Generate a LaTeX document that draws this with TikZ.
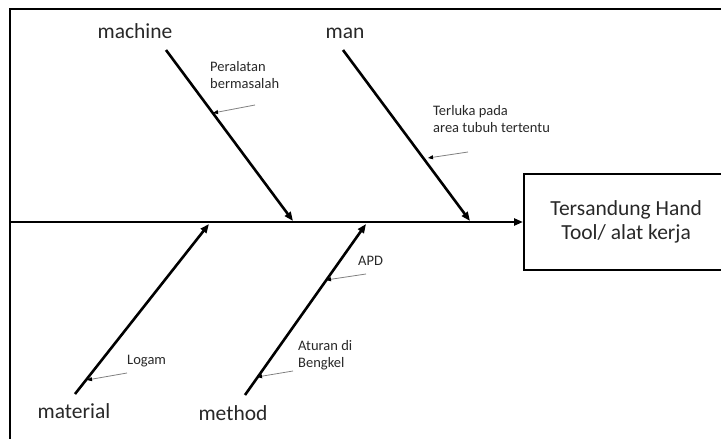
\documentclass[tikz,border=0pt]{standalone}
\usepackage{fontspec}
\setmainfont{Carlito}
\usetikzlibrary{arrows.meta}
\definecolor{txt}{RGB}{40,40,40}
\begin{document}
\begin{tikzpicture}[x=1pt,y=-1pt,
  bone/.style={line width=2.6pt,-{Triangle[length=9pt,width=7pt]}},
  frameline/.style={line width=1.8pt},
  big/.style={font=\fontsize{21.5}{24}\selectfont,inner sep=0pt,text=txt,anchor=base},
  small/.style={font=\fontsize{14.5}{16.5}\selectfont,inner sep=0pt,align=left,anchor=west,text=txt},
  pointer/.style={draw=gray,line width=0.8pt,-{Triangle[length=5pt,width=4pt,fill=black,color=black]}}]
\useasboundingbox (0,0) rectangle (721,439);
\clip (0,0) rectangle (721,439);
% frame
\coordinate (fTR) at (721,9);
\coordinate (fTL) at (10,9);
\coordinate (fBL) at (10,439);
\draw[frameline] (fTR) -- (fTL) -- (fBL);
% effect box
\node[draw,line width=2.4pt,minimum width=204pt,minimum height=96pt,anchor=west,
  font=\fontsize{21.5}{24}\selectfont,align=center,inner sep=0pt,text=txt] (effect) at (523,222)
  {Tersandung Hand\\Tool/ alat kerja};
% spine
\coordinate (spL) at (10,222);
\draw[bone] (spL) -- (effect.west);
% bones
\coordinate (mcS) at (166,50);  \coordinate (mcE) at (293,221);
\coordinate (mnS) at (343,50);  \coordinate (mnE) at (470,221);
\coordinate (mtS) at (75,394);  \coordinate (mtE) at (209,224);
\coordinate (mdS) at (245,395); \coordinate (mdE) at (366,224);
\draw[bone] (mcS) -- (mcE);
\draw[bone] (mnS) -- (mnE);
\draw[bone] (mtS) -- (mtE);
\draw[bone] (mdS) -- (mdE);
% category labels
\node[big] (lmachine) at (135,38) {machine};
\node[big] (lman) at (345,38) {man};
\node[big] (lmaterial) at (74,418) {material};
\node[big] (lmethod) at (233,420) {method};
% causes
\node[small] (cPer) at (210,75) {Peralatan\\bermasalah};
\node[small] (cTer) at (433,119) {Terluka pada\\area tubuh tertentu};
\node[small] (cLog) at (127,361) {Logam};
\node[small] (cAtu) at (298,355) {Aturan di\\Bengkel};
\node[small] (cAPD) at (358,261) {APD};
% pointer ends
\coordinate (pPs) at (255,105); \coordinate (pPe) at (213,113);
\coordinate (pTs) at (468,152); \coordinate (pTe) at (428,158);
\coordinate (pLs) at (127,373); \coordinate (pLe) at (87,380);
\coordinate (pAs) at (293,371); \coordinate (pAe) at (257,377);
\coordinate (pDs) at (366,274); \coordinate (pDe) at (326,280);
\draw[pointer] (pPs) -- (pPe);
\draw[pointer] (pTs) -- (pTe);
\draw[pointer] (pLs) -- (pLe);
\draw[pointer] (pAs) -- (pAe);
\draw[pointer] (pDs) -- (pDe);
\end{tikzpicture}
\end{document}
